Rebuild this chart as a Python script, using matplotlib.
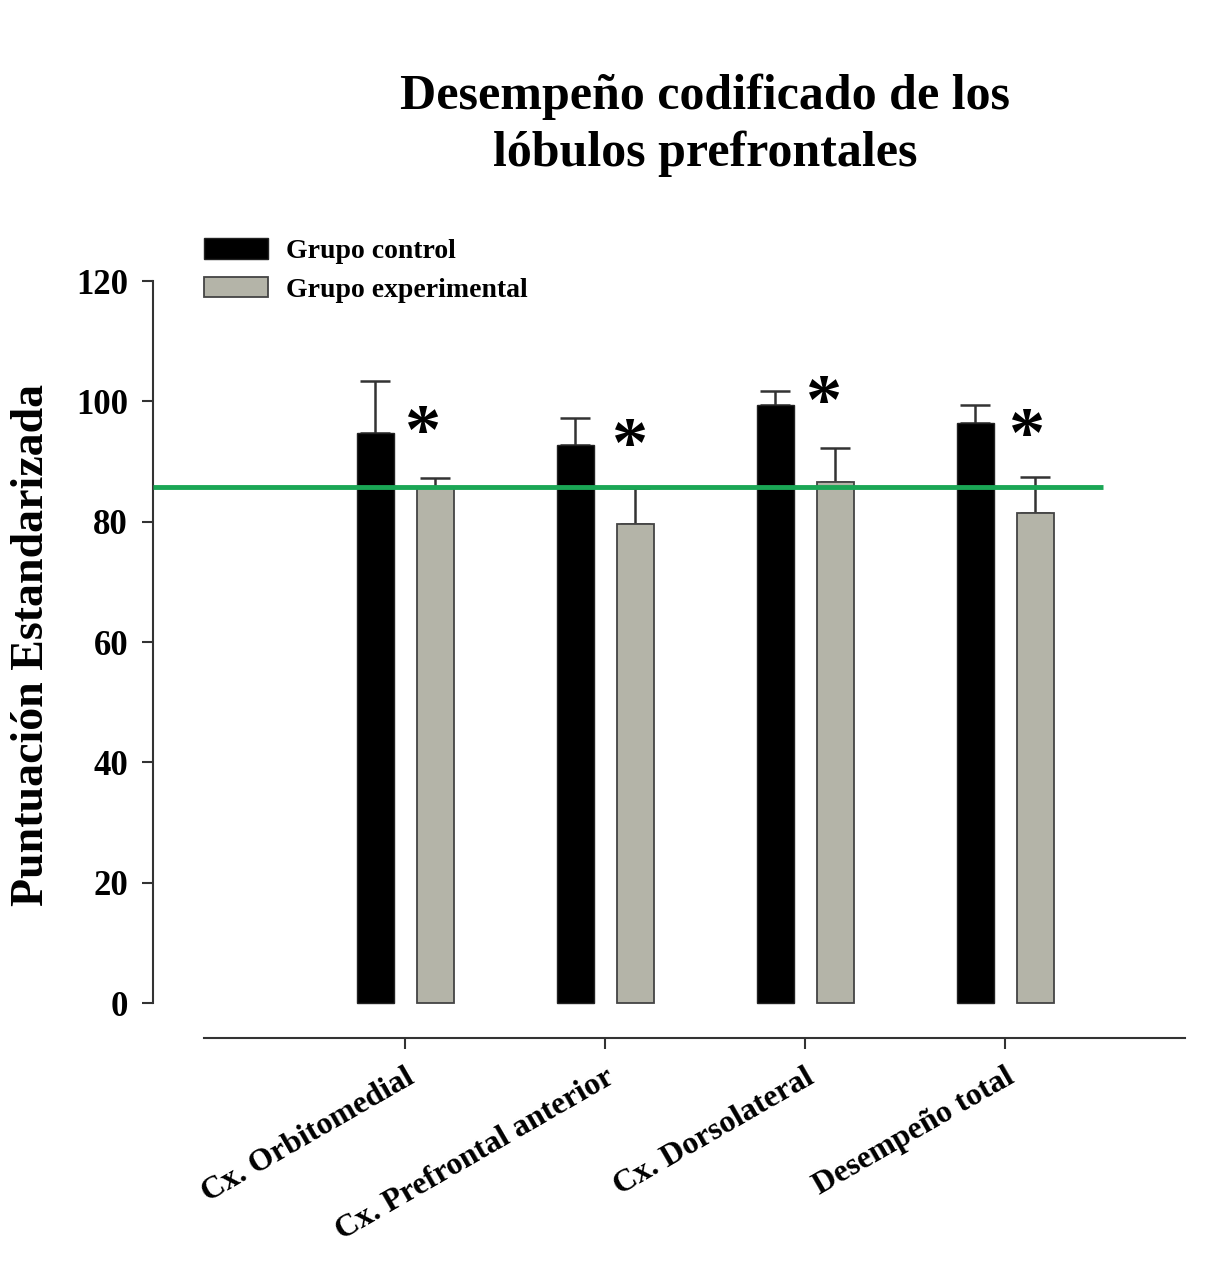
import matplotlib.pyplot as plt
import numpy as np

plt.rcParams['font.family'] = ['Liberation Serif', 'DejaVu Serif']
plt.rcParams['font.weight'] = 'bold'

# Puntuaciones medias y error (extremo superior) por region
regiones = ["Cx. Orbitomedial", "Cx. Prefrontal anterior", "Cx. Dorsolateral", "Desempeño total"]
control = [94.7, 92.7, 99.4, 96.4]
control_err = [8.7, 4.6, 2.4, 3.0]
experimental = [85.8, 79.6, 86.6, 81.4]
experimental_err = [1.5, 6.0, 5.7, 6.1]
referencia = 85.8
asterisco_y = [94.4, 92.2, 99.4, 93.9]
asterisco_dx = [0.09, 0.125, 0.095, 0.11]

fig = plt.figure(figsize=(12.07, 12.81), dpi=100)
ax = fig.add_axes([0.1268, 0.1897, 0.855, 0.5909])

x = np.arange(len(regiones))
w = 0.185
ax.bar(x - 0.15, control, w, color='black', edgecolor='#222222', linewidth=1,
       label='Grupo control', zorder=2)
ax.bar(x + 0.15, experimental, w, color='#b4b4a8', edgecolor='#444444', linewidth=1.3,
       label='Grupo experimental', zorder=2)
ax.errorbar(x - 0.15, control, yerr=[np.zeros(4), control_err], fmt='none',
            ecolor='#333333', elinewidth=1.8, capsize=11, capthick=1.8, zorder=1)
ax.errorbar(x + 0.15, experimental, yerr=[np.zeros(4), experimental_err], fmt='none',
            ecolor='#333333', elinewidth=1.8, capsize=11, capthick=1.8, zorder=1)

ax.hlines(referencia, -1.26, 3.49, color='#1aa655', linewidth=3.5, zorder=3)

for xi, yi, dx in zip(x, asterisco_y, asterisco_dx):
    ax.text(xi + dx, yi, '*', fontsize=52, ha='center', va='center')

ax.set_xlim(-1.26, 3.9)
ax.set_ylim(-5.8, 120)
ax.spines['top'].set_visible(False)
ax.spines['right'].set_visible(False)
ax.spines['left'].set_bounds(0, 120)
ax.spines['bottom'].set_bounds(-1.005, 3.9)
for s in ('left', 'bottom'):
    ax.spines[s].set_color('#333333')
    ax.spines[s].set_linewidth(1.5)

ax.set_yticks(np.arange(0, 121, 20))
ax.tick_params(axis='y', labelsize=25, length=8, width=1.5, color='#333333', pad=10)
ax.set_xticks(x)
ax.set_xticklabels(regiones, rotation=30, ha='right', rotation_mode='anchor',
                   fontsize=23)
ax.tick_params(axis='x', length=8, width=1.5, color='#333333', pad=10)

ax.set_ylabel('Puntuación Estandarizada', fontsize=33, fontweight='bold')
ax.yaxis.set_label_coords(-0.097, 0.519)

ax.legend(loc='upper left', bbox_to_anchor=(0.039, 1.071), frameon=False,
          fontsize=20, handlelength=2.3, handleheight=0.75, labelspacing=0.45,
          handletextpad=0.65, borderaxespad=0)

fig.text(0.584, 0.902, 'Desempeño codificado de los\nlóbulos prefrontales',
         ha='center', va='center', fontsize=36, linespacing=1.3)

fig.savefig('out.png', dpi=100, facecolor='white')
